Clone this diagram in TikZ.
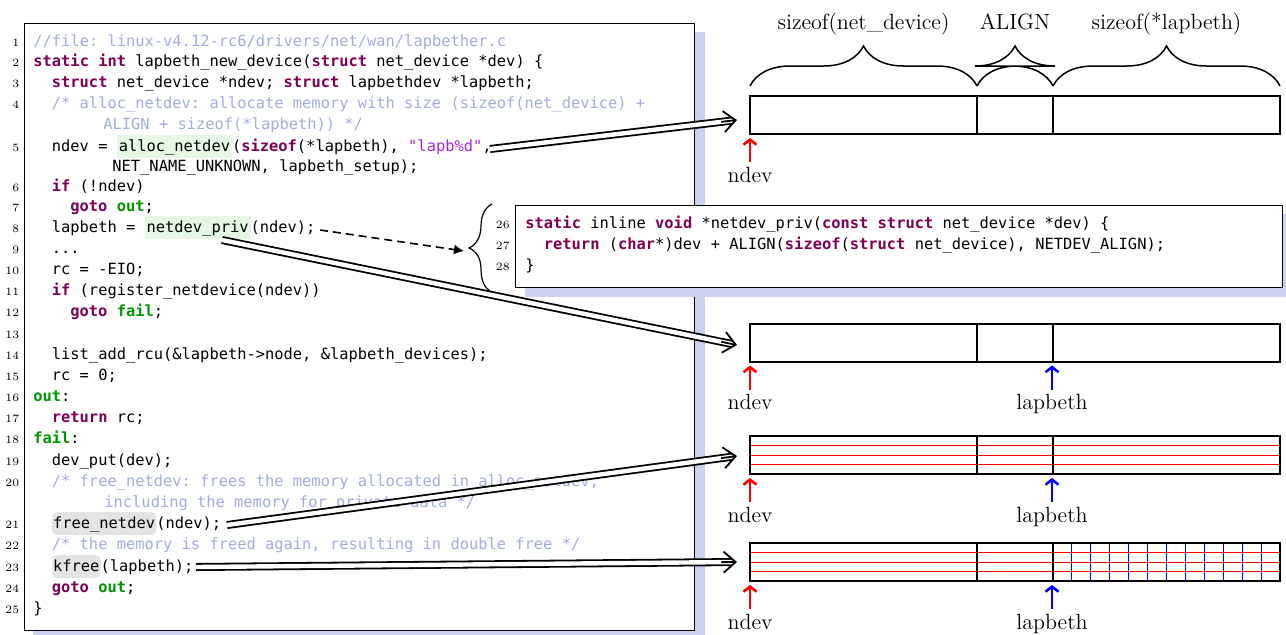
\documentclass[tikz,border=0pt]{standalone}
\usepackage{fontspec}
\setmonofont{DejaVu Sans Mono}
\usetikzlibrary{arrows.meta,calc}
\definecolor{ckwc}{RGB}{127,0,85}
\definecolor{clbc}{RGB}{0,150,0}
\definecolor{ccmc}{RGB}{163,173,219}
\definecolor{cstrc}{RGB}{165,40,225}
\definecolor{chgc}{RGB}{228,248,228}
\definecolor{chgrc}{RGB}{228,228,228}
\definecolor{shadowc}{RGB}{204,209,242}
\newcommand{\ckw}[1]{\textcolor{ckwc}{\bfseries #1}}
\newcommand{\clb}[1]{\textcolor{clbc}{\bfseries #1}}
\newcommand{\ccm}[1]{\textcolor{ccmc}{#1}}
\newcommand{\cstr}[1]{\textcolor{cstrc}{#1}}
\newcommand{\chg}[1]{{\setlength\fboxsep{1pt}\colorbox{chgc}{\rule[-2.6pt]{0pt}{9.6pt}#1}}}
\newcommand{\chgr}[1]{\tikz[baseline=0pt]\node[anchor=base,fill=chgrc,rounded corners=2.5pt,inner xsep=0.6pt,inner ysep=0pt,text height=8pt,text depth=3.5pt]{#1};}
\tikzset{
  code/.style={anchor=west, inner sep=0pt, font=\ttfamily\fontsize{7.7}{9}\selectfont, text height=6pt, text depth=2pt},
  lno/.style={anchor=east, inner sep=0pt, font=\fontsize{5.6}{6}\selectfont, text height=4pt, text depth=0pt},
  frame/.style={draw=black, line width=0.5pt, fill=white},
  lab/.style={anchor=base, inner sep=0pt, font=\fontsize{11}{13}\selectfont},
  dblline/.style={double=white, double distance=2.2pt, line width=0.9pt, shorten >=2.4pt},
  dbltip/.style={line width=0.9pt, -{Straight Barb[length=6pt,width=10.5pt]}},
  ptrarrow/.style={line width=1.3pt, -{Straight Barb[length=2.5pt,width=6.5pt]}},
  brcline/.style={line width=0.75pt},
  dsh/.style={dash pattern=on 4pt off 2.5pt, line width=0.8pt, -{Latex[length=5pt,width=5pt]}},
  memb/.style={draw, line width=1pt, minimum width=265pt, minimum height=19pt, inner sep=0pt},
}
\newcommand{\crow}[5]{\node[lno] (n#1) at (19.5,#3) {#2}; \node[code] (#1) at (#4,#3) {#5};}
\newcommand{\membox}[2]{%
  \node[memb] (#1) at (1015,#2+19) {};
  \draw[line width=1pt] (977,#2) -- (977,#2+38) (1053,#2) -- (1053,#2+38);}
\newcommand{\redlines}[1]{%
  \draw[red, line width=0.5pt] (750,#1+9.5) -- (1280,#1+9.5) (750,#1+19) -- (1280,#1+19) (750,#1+28.5) -- (1280,#1+28.5);}
\newcommand{\ptr}[5]{% name, color, x, box bottom, label
  \draw[#2, ptrarrow] (#3,#4+28) -- (#3,#4+4);
  \node[lab] (#1) at (#3,#4+48) {#5};}
\newcommand{\dblarrow}[2]{% from, to
  \draw[dblline] (#1) -- (#2);
  \draw[dbltip] ($(#2)!8pt!(#1)$) -- (#2);}
% horizontal brace (tip up), old pgf brace geometry, amplitude 40px
\newcommand{\hbrace}[3]{% x0, x1, ybase
  \pgfmathsetmacro{\bm}{(#1+#2)/2}
  \draw[brcline] (#1,#3) .. controls (#1+6,#3-12) and (#1+20,#3-20) .. (#1+40,#3-20)
    -- (\bm-40,#3-20) .. controls (\bm-20,#3-20) and (\bm-6,#3-28) .. (\bm,#3-40)
    .. controls (\bm+6,#3-28) and (\bm+20,#3-20) .. (\bm+40,#3-20)
    -- (#2-40,#3-20) .. controls (#2-20,#3-20) and (#2-6,#3-12) .. (#2,#3);}
\begin{document}
\begin{tikzpicture}[x=0.5pt,y=-0.5pt]
\useasboundingbox (0,0) rectangle (1286,634);
\clip (0,0) rectangle (1286,634);
% main code box
\fill[shadowc] (33,32) rectangle (705,640);
\draw[frame] (24,23) rectangle (694,630);
\crow{l1}{1}{42.5}{33}{\ccm{//file: linux-v4.12-rc6/drivers/net/wan/lapbether.c}}
\crow{l2}{2}{62.5}{33}{\ckw{static} \ckw{int} lapbeth\_new\_device(\ckw{struct} net\_device *dev) \{}
\crow{l3}{3}{83.5}{51.5}{\ckw{struct} net\_device *ndev; \ckw{struct} lapbethdev *lapbeth;}
\crow{l4}{4}{104.5}{51.5}{\ccm{/* alloc\_netdev: allocate memory with size (sizeof(net\_device) +}}
\node[code] (l4c) at (103,125.5) {\ccm{ALIGN + sizeof(*lapbeth)) */}};
\crow{l5}{5}{147}{51.5}{ndev = \chg{alloc\_netdev}(\ckw{sizeof}(*lapbeth), \cstr{"lapb\%d"},}
\node[code] (l5c) at (112,167.5) {NET\_NAME\_UNKNOWN, lapbeth\_setup);};
\crow{l6}{6}{187}{51.5}{\ckw{if} (!ndev)}
\crow{l7}{7}{207}{70}{\ckw{goto} \clb{out};}
\crow{l8}{8}{228}{51.5}{lapbeth = \chg{netdev\_priv}(ndev);}
\crow{l9}{9}{249}{51.5}{...}
\crow{l10}{10}{270}{51.5}{rc = -EIO;}
\crow{l11}{11}{291}{51.5}{\ckw{if} (register\_netdevice(ndev))}
\crow{l12}{12}{312}{70}{\ckw{goto} \clb{fail};}
\crow{l13}{13}{334}{51.5}{}
\crow{l14}{14}{355}{51.5}{list\_add\_rcu(\&lapbeth->node, \&lapbeth\_devices);}
\crow{l15}{15}{376}{51.5}{rc = 0;}
\crow{l16}{16}{397}{33}{\clb{out}:}
\crow{l17}{17}{418}{51.5}{\ckw{return} rc;}
\crow{l18}{18}{439}{33}{\clb{fail}:}
\crow{l19}{19}{461}{51.5}{dev\_put(dev);}
\crow{l20}{20}{482}{51.5}{\ccm{/* free\_netdev: frees the memory allocated in alloc\_netdev,}}
\node[code] (l20c) at (104,503) {\ccm{including the memory for private data */}};
\crow{l21}{21}{524}{51.5}{\chgr{free\_netdev}(ndev);}
\crow{l22}{22}{545}{51.5}{\ccm{/* the memory is freed again, resulting in double free */}}
\crow{l23}{23}{567}{51.5}{\chgr{kfree}(lapbeth);}
\crow{l24}{24}{588}{51.5}{\ckw{goto} \clb{out};}
\crow{l25}{25}{609}{33}{\}}
% inset box
\fill[shadowc] (525,214) rectangle (1296,297);
\draw[frame] (515,205) rectangle (1282,287);
\node[lno] (n26) at (510,224) {26};
\node[code] (l26) at (525,224) {\ckw{static} inline \ckw{void} *netdev\_priv(\ckw{const} \ckw{struct} net\_device *dev) \{};
\node[lno] (n27) at (510,245) {27};
\node[code] (l27) at (543.5,245) {\ckw{return} (\ckw{char}*)dev + ALIGN(\ckw{sizeof}(\ckw{struct} net\_device), NETDEV\_ALIGN);};
\node[lno] (n28) at (510,266) {28};
\node[code] (l28) at (525,266) {\}};
% vertical brace left of the inset (tip left)
\coordinate (btop) at (492,204);
\coordinate (bbot) at (490,291);
\coordinate (btipv) at (469,248);
\draw[line width=0.6pt] (btop) .. controls (485.4,207.3) and (481,215) .. (481,226)
  -- (481,225.5) .. controls (481,236.5) and (476.6,244.6) .. (btipv)
  .. controls (476.6,251.2) and (481,258.5) .. (481,269.5)
  -- (481,269) .. controls (481,280) and (484.4,287.7) .. (bbot);
% memory boxes
\redlines{436}
\redlines{543}
\foreach \k in {1,...,11} \draw[blue, line width=0.5pt] ({1053+\k*227/12},543) -- ({1053+\k*227/12},581);
\membox{m1}{96}
\membox{m2}{323.5}
\membox{m3}{436}
\membox{m4}{543}
% braces and size labels
\hbrace{750}{977}{86}
\hbrace{977}{1053}{86}
\hbrace{1053}{1280}{86}
\node[lab] (tsz1) at (863.5,29) {sizeof(net\_device)};
\node[lab] (tsz2) at (1015,29) {ALIGN};
\node[lab] (tsz3) at (1166.5,29) {sizeof(*lapbeth)};
% pointers
\ptr{p1}{red}{750}{134}{ndev}
\ptr{p2}{red}{750}{361.5}{ndev}
\ptr{p2b}{blue}{1052}{361.5}{lapbeth}
\ptr{p3}{red}{750}{474}{ndev}
\ptr{p3b}{blue}{1052}{474}{lapbeth}
\ptr{p4}{red}{750}{581}{ndev}
\ptr{p4b}{blue}{1052}{581}{lapbeth}
% arrows
\coordinate (d1) at (320,230);
\coordinate (btip) at (464,251);
\draw[dsh] (d1) -- (btip);
\coordinate (s1) at (490,149);
\coordinate (s2) at (222,240);
\coordinate (s3) at (227,525);
\coordinate (s4) at (196,567);
\coordinate (t1) at ([xshift=-6pt,yshift=-2.5pt]m1.west);
\coordinate (t2) at ([xshift=-6pt,yshift=-1.25pt]m2.west);
\coordinate (t3) at ([xshift=-6pt,yshift=-0.5pt]m3.west);
\coordinate (t4) at ([xshift=-6pt]m4.west);
\dblarrow{s1}{t1}
\dblarrow{s2}{t2}
\dblarrow{s3}{t3}
\dblarrow{s4}{t4}
\end{tikzpicture}
\end{document}
